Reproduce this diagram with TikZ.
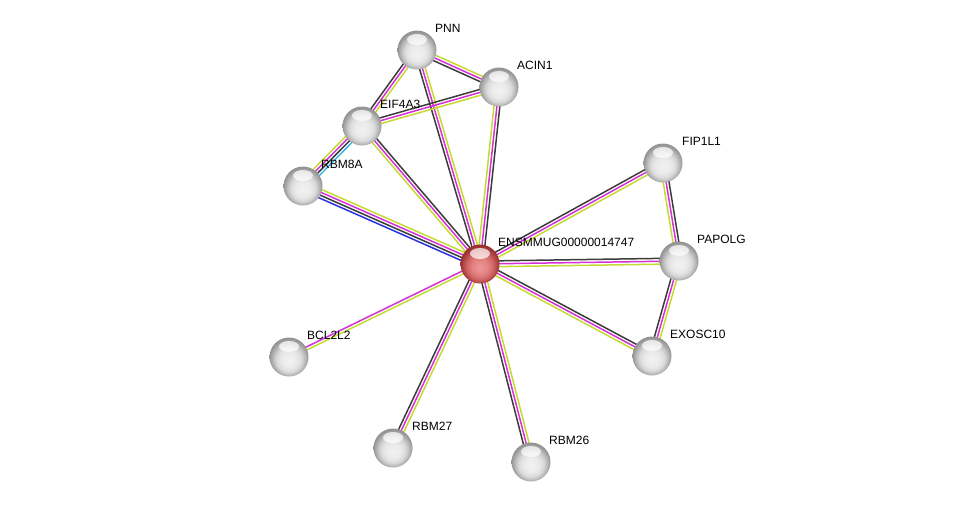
\documentclass[tikz,border=0pt]{standalone}
\usepackage{fontspec}
\setmainfont{Liberation Sans}
\usetikzlibrary{calc}
\pgfdeclarelayer{background}
\pgfsetlayers{background,main}
\definecolor{tmine}{RGB}{196,218,48}
\definecolor{expt}{RGB}{214,48,214}
\definecolor{coex}{RGB}{60,60,60}
\definecolor{cdb}{RGB}{56,180,230}
\definecolor{cooc}{RGB}{40,50,225}
\pgfdeclareradialshading{greyball}{\pgfpoint{0bp}{-5bp}}{%
  color(0bp)=(rgb,255:red,242;green,242;blue,242); color(10bp)=(rgb,255:red,234;green,234;blue,234);
  color(16bp)=(rgb,255:red,218;green,218;blue,218); color(20bp)=(rgb,255:red,190;green,190;blue,190);
  color(25bp)=(rgb,255:red,150;green,150;blue,150); color(32bp)=(rgb,255:red,140;green,140;blue,140);
  color(40bp)=(rgb,255:red,140;green,140;blue,140)}
\pgfdeclareradialshading{redball}{\pgfpoint{0bp}{-5bp}}{%
  color(0bp)=(rgb,255:red,238;green,150;blue,150); color(10bp)=(rgb,255:red,228;green,130;blue,130);
  color(16bp)=(rgb,255:red,212;green,106;blue,106); color(20bp)=(rgb,255:red,190;green,80;blue,80);
  color(25bp)=(rgb,255:red,155;green,50;blue,50); color(32bp)=(rgb,255:red,140;green,45;blue,45);
  color(40bp)=(rgb,255:red,140;green,45;blue,45)}
\tikzset{
  prot/.style={circle, minimum size=39pt, inner sep=0pt, shading=greyball,
    path picture={\fill[white,opacity=0.7] ([yshift=-9pt]path picture bounding box.north) ellipse (10pt and 5.5pt);}},
  protq/.style={prot, shading=redball},
  lbl/.style={anchor=west, font=\fontsize{12pt}{14pt}\selectfont, inner sep=0pt},
  strline/.style={line width=1.5pt}
}
\newcommand\stredge[3]{%
  \foreach \cc [count=\ii] in {#3} {\xdef\nlines{\ii}}%
  \foreach \cc [count=\ii] in {#3} {%
    \pgfmathsetmacro\off{(\ii-(\nlines+1)/2)*2.9}%
    \draw[strline,\cc] ($(#1.center)!\off pt!90:(#2.center)$) -- ($(#2.center)!\off pt!-90:(#1.center)$);
  }}
\begin{document}
\begin{tikzpicture}[x=1pt,y=-1pt]
\useasboundingbox (0,0) rectangle (975,507);
\node[prot] (pnn) at (417,50) {};
\node[prot] (acin) at (499,87) {};
\node[prot] (eif) at (362,126) {};
\node[prot] (rbm8a) at (303,186) {};
\node[prot] (fip) at (663,163) {};
\node[protq] (ens) at (480,264) {};
\node[prot] (pap) at (679,261) {};
\node[prot] (bcl) at (289,357) {};
\node[prot] (exo) at (652,356) {};
\node[prot] (rbm27) at (393,448) {};
\node[prot] (rbm26) at (531,462) {};
\node[lbl] at (435,28) {PNN};
\node[lbl] at (517,65) {ACIN1};
\node[lbl] at (380,104) {EIF4A3};
\node[lbl] at (321,164) {RBM8A};
\node[lbl] at (682,141) {FIP1L1};
\node[lbl] at (498,242) {ENSMMUG00000014747};
\node[lbl] at (697,239) {PAPOLG};
\node[lbl] at (307,335) {BCL2L2};
\node[lbl] at (670,334) {EXOSC10};
\node[lbl] at (412,426) {RBM27};
\node[lbl] at (549,440) {RBM26};
\begin{pgfonlayer}{background}
\stredge{pnn}{acin}{coex,expt,tmine}
\stredge{pnn}{eif}{coex,expt,tmine}
\stredge{pnn}{ens}{coex,expt,tmine}
\stredge{eif}{acin}{tmine,expt,coex}
\stredge{acin}{ens}{tmine,expt,coex}
\stredge{eif}{ens}{tmine,expt,coex}
\stredge{rbm8a}{eif}{cdb,coex,expt,tmine}
\stredge{rbm8a}{ens}{cooc,coex,expt,tmine}
\stredge{ens}{fip}{tmine,expt,coex}
\stredge{fip}{pap}{tmine,expt,coex}
\stredge{ens}{pap}{tmine,expt,coex}
\stredge{pap}{exo}{coex,expt,tmine}
\stredge{ens}{exo}{tmine,expt,coex}
\stredge{ens}{bcl}{expt,tmine}
\stredge{ens}{rbm27}{coex,expt,tmine}
\stredge{ens}{rbm26}{coex,expt,tmine}
\end{pgfonlayer}
\end{tikzpicture}
\end{document}
